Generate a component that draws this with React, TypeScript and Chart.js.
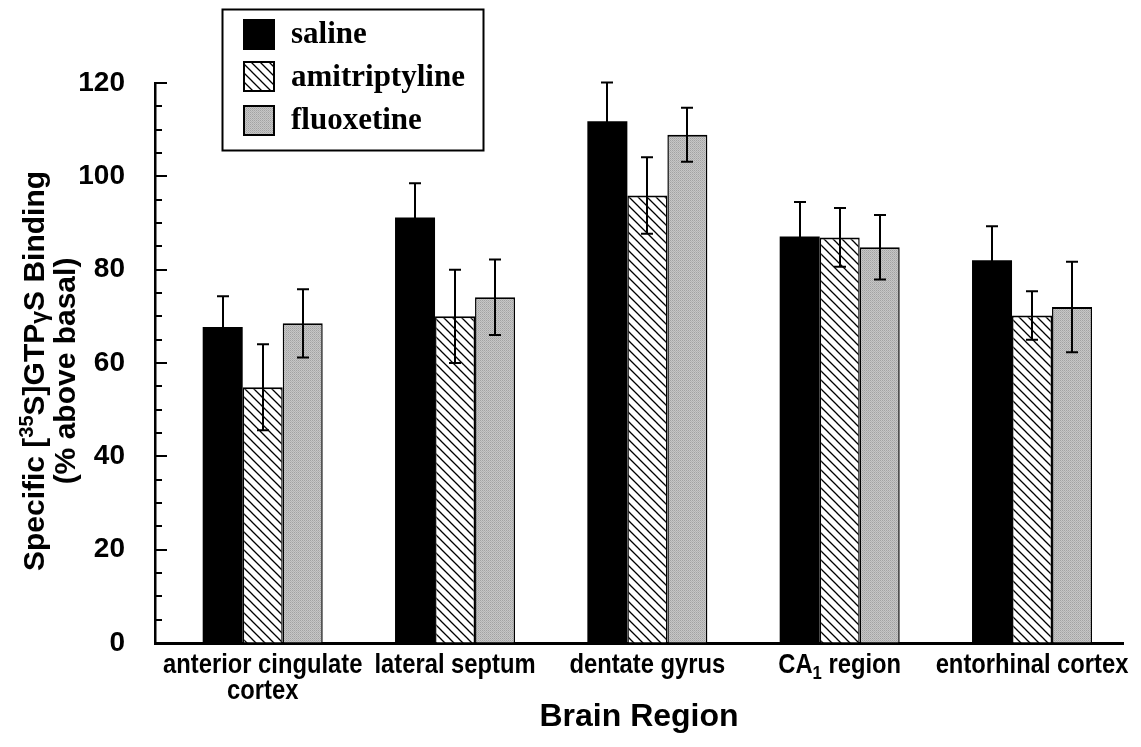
import React, { useEffect, useRef } from 'react';
import { Chart, registerables } from 'chart.js';

Chart.register(...registerables);

// ---------------- data ----------------
const regions: string[][] = [
  ['anterior cingulate', 'cortex'],
  ['lateral septum'],
  ['dentate gyrus'],
  ['CA₁ region'],
  ['entorhinal cortex'],
];
const regionIndex = [0, 1, 2, 3, 4];
const seriesNames = ['saline', 'amitriptyline', 'fluoxetine'];

const salineMean = [67.7, 91.2, 111.8, 87.1, 82.0];
const salineErr = [6.6, 7.3, 8.3, 7.4, 7.3];
const amitMean = [54.8, 70.0, 95.9, 86.9, 70.2];
const amitErr = [9.2, 10.0, 8.2, 6.3, 5.2];
const fluoxMean = [68.5, 74.1, 108.9, 84.8, 72.0];
const fluoxErr = [7.3, 8.1, 5.8, 6.9, 9.7];

const yMajorTicks = [0, 20, 40, 60, 80, 100, 120];
const yMinorStep = 5;

const means = [salineMean, amitMean, fluoxMean];
const errs = [salineErr, amitErr, fluoxErr];

// ---------------- fonts ----------------
const SANS = '"Liberation Sans", Arial, Helvetica, sans-serif';
const SERIF = '"Liberation Serif", "Times New Roman", serif';

function makeHatch(ctx: CanvasRenderingContext2D) {
  const s = 9;
  const c = document.createElement('canvas');
  c.width = s;
  c.height = s;
  const g = c.getContext('2d')!;
  g.fillStyle = '#ffffff';
  g.fillRect(0, 0, s, s);
  g.strokeStyle = '#000000';
  g.lineWidth = 1.3;
  g.beginPath();
  g.moveTo(-1, -1);
  g.lineTo(s + 1, s + 1);
  g.moveTo(-2, s - 2);
  g.lineTo(2, s + 2);
  g.moveTo(s - 2, -2);
  g.lineTo(s + 2, 2);
  g.stroke();
  return ctx.createPattern(c, 'repeat')!;
}

function makeStipple(ctx: CanvasRenderingContext2D) {
  const c = document.createElement('canvas');
  c.width = 2;
  c.height = 2;
  const g = c.getContext('2d')!;
  g.fillStyle = '#c6c6c6';
  g.fillRect(0, 0, 2, 2);
  g.fillStyle = '#a2a2a2';
  g.fillRect(0, 0, 1, 1);
  g.fillStyle = '#b2b2b2';
  g.fillRect(1, 1, 1, 1);
  return ctx.createPattern(c, 'repeat')!;
}

// draws a label line, rendering '₁' as a lowered smaller digit, horizontally condensed
function drawCondensed(c: CanvasRenderingContext2D, text: string, cx: number, cy: number, size: number, sx: number) {
  const parts: { t: string; s: number; dy: number }[] = [];
  let buf = '';
  for (const ch of text) {
    if (ch === '₁') {
      if (buf) parts.push({ t: buf, s: size, dy: 0 });
      buf = '';
      parts.push({ t: '1', s: Math.round(size * 0.72), dy: 6 });
    } else buf += ch;
  }
  if (buf) parts.push({ t: buf, s: size, dy: 0 });
  let w = 0;
  parts.forEach((p) => {
    c.font = `bold ${p.s}px ${SANS}`;
    w += c.measureText(p.t).width;
  });
  c.save();
  c.translate(cx, cy);
  c.scale(sx, 1);
  c.textAlign = 'left';
  c.textBaseline = 'alphabetic';
  let x = -w / 2;
  parts.forEach((p) => {
    c.font = `bold ${p.s}px ${SANS}`;
    c.fillText(p.t, x, p.dy);
    x += c.measureText(p.t).width;
  });
  c.restore();
}

export default function App() {
  const ref = useRef<HTMLCanvasElement | null>(null);

  useEffect(() => {
    document.body.style.margin = '0';
    const canvas = ref.current!;
    const ctx = canvas.getContext('2d')!;
    const hatch = makeHatch(ctx);
    const stipple = makeStipple(ctx);
    const fills = ['#000000', hatch, stipple];

    const errorBars = {
      id: 'errorBars',
      afterDatasetsDraw(chart: any) {
        const c = chart.ctx as CanvasRenderingContext2D;
        const ys = chart.scales.y;
        c.save();
        c.strokeStyle = '#000';
        c.lineWidth = 2;
        errs.forEach((eArr, di) => {
          const meta = chart.getDatasetMeta(di);
          meta.data.forEach((bar: any, i: number) => {
            const v = means[di][i];
            const e = eArr[i];
            const yt = ys.getPixelForValue(v + e);
            const yb = ys.getPixelForValue(v - e);
            const x = Math.round(bar.x);
            c.beginPath();
            c.moveTo(x, yt);
            c.lineTo(x, yb);
            c.moveTo(x - 6, yt);
            c.lineTo(x + 6, yt);
            c.moveTo(x - 6, yb);
            c.lineTo(x + 6, yb);
            c.stroke();
          });
        });
        c.restore();
      },
    };

    const decorations = {
      id: 'decorations',
      afterDraw(chart: any) {
        const c = chart.ctx as CanvasRenderingContext2D;
        const ys = chart.scales.y;
        const xs = chart.scales.x;
        const area = chart.chartArea;
        c.save();
        // inward y ticks
        c.strokeStyle = '#000';
        c.lineWidth = 2;
        const yMax = yMajorTicks[yMajorTicks.length - 1];
        for (let v = yMinorStep; v <= yMax; v += yMinorStep) {
          const major = yMajorTicks.includes(v);
          const y = Math.round(ys.getPixelForValue(v));
          c.beginPath();
          c.moveTo(area.left, y);
          c.lineTo(area.left + (major ? 12 : 7), y);
          c.stroke();
        }

        // x category labels (condensed bold sans)
        c.fillStyle = '#000';
        regions.forEach((lines, i) => {
          const px = xs.getPixelForValue(regionIndex[i]);
          lines.forEach((ln, k) => {
            drawCondensed(c, ln, px, 673 + k * 26, 27, 0.88);
          });
        });

        // y-axis title (rotated, rich text)
        c.save();
        c.translate(0, 371);
        c.rotate(-Math.PI / 2);
        c.textBaseline = 'alphabetic';
        const line1 = [
          { t: 'Specific [', s: 30, dy: 0 },
          { t: '35', s: 20, dy: -11 },
          { t: 'S]GTP', s: 30, dy: 0 },
          { t: 'γ', s: 23, dy: 3 },
          { t: 'S Binding', s: 30, dy: 0 },
        ];
        let w = 0;
        line1.forEach((p) => {
          c.font = `bold ${p.s}px ${SANS}`;
          w += c.measureText(p.t).width;
        });
        let x = -w / 2;
        line1.forEach((p) => {
          c.font = `bold ${p.s}px ${SANS}`;
          c.textAlign = 'left';
          c.fillText(p.t, x, 44 + p.dy);
          x += c.measureText(p.t).width;
        });
        c.font = `bold 30px ${SANS}`;
        c.textAlign = 'center';
        c.fillText('(% above basal)', 0, 75);
        c.restore();

        // x-axis title
        c.font = `bold 32px ${SANS}`;
        c.textAlign = 'center';
        c.textBaseline = 'middle';
        c.fillText('Brain Region', (area.left + area.right) / 2, 717);

        // legend
        c.lineWidth = 2;
        c.strokeStyle = '#000';
        c.strokeRect(222.5, 9.5, 261, 141);
        const sw = [19, 61, 105];
        const base = [43, 86, 129];
        seriesNames.forEach((name, i) => {
          c.fillStyle = fills[i] as any;
          c.fillRect(243, sw[i], 32, 31);
          c.strokeRect(244, sw[i] + 1, 30, 29);
          c.fillStyle = '#000';
          c.font = `bold 31px ${SERIF}`;
          c.textAlign = 'left';
          c.textBaseline = 'alphabetic';
          c.fillText(name, 291, base[i]);
        });
        c.restore();
      },
    };

    const mkData = (arr: number[]) => arr.map((v, i) => ({ x: regionIndex[i], y: v }));

    const chart = new Chart(canvas, {
      type: 'bar',
      data: {
        datasets: [
          {
            label: seriesNames[0],
            data: mkData(salineMean),
            backgroundColor: '#000000',
            borderWidth: 0,
          },
          {
            label: seriesNames[1],
            data: mkData(amitMean),
            backgroundColor: hatch as any,
            borderColor: '#000',
            borderWidth: { top: 2, left: 1.5, right: 1.5, bottom: 0 } as any,
          },
          {
            label: seriesNames[2],
            data: mkData(fluoxMean),
            backgroundColor: stipple as any,
            borderColor: '#000',
            borderWidth: { top: 2, left: 1.5, right: 1.5, bottom: 0 } as any,
          },
        ],
      },
      options: {
        animation: false,
        responsive: true,
        maintainAspectRatio: false,
        layout: { padding: { top: 83, right: 18, left: 0, bottom: 0 } },
        datasets: { bar: { categoryPercentage: 0.624, barPercentage: 1 } },
        plugins: { legend: { display: false }, tooltip: { enabled: false }, title: { display: false } },
        scales: {
          x: {
            type: 'linear',
            min: -0.56,
            max: 4.473,
            offset: false,
            grid: { display: true, drawOnChartArea: false, drawTicks: false },
            border: { display: true, color: '#000', width: 3 },
            afterBuildTicks: (scale: any) => {
              scale.ticks = regionIndex.map((v) => ({ value: v }));
            },
            afterFit: (scale: any) => {
              scale.height = 104;
              scale.paddingLeft = 0;
              scale.paddingRight = 0;
            },
            ticks: { display: false },
          },
          y: {
            min: 0,
            max: 120,
            grid: { display: true, drawOnChartArea: false, drawTicks: false },
            border: { display: true, color: '#000', width: 2.5 },
            afterBuildTicks: (scale: any) => {
              scale.ticks = yMajorTicks.map((v) => ({ value: v }));
            },
            afterFit: (scale: any) => {
              scale.width = 155;
              scale.paddingTop = 0;
              scale.paddingBottom = 0;
            },
            ticks: {
              padding: 30,
              color: '#000',
              font: { family: SANS, weight: 'bold', size: 28 },
            },
          },
        },
      },
      plugins: [errorBars, decorations],
    } as any);

    return () => chart.destroy();
  }, []);

  return (
    <div style={{ position: 'fixed', left: 0, top: 0, width: 1141, height: 747, background: '#fff' }}>
      <canvas ref={ref} />
    </div>
  );
}
